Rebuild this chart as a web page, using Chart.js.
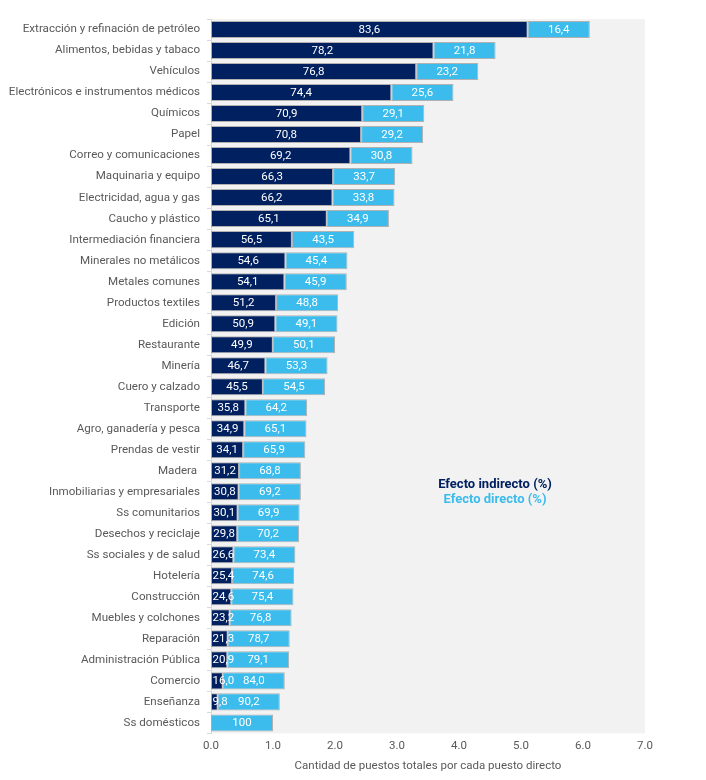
<!DOCTYPE html>
<html>
<head>
<meta charset="utf-8">
<script src="https://cdn.jsdelivr.net/npm/chart.js@4.4.1/dist/chart.umd.min.js"></script>
<style>
  html, body { margin: 0; padding: 0; background: #ffffff; }
  #wrap { width: 706px; height: 780px; }
</style>
</head>
<body>
<div id="wrap"><canvas id="myChart" width="706" height="780"></canvas></div>
<script>
const sectores = [
  "Extracción y refinación de petróleo",
  "Alimentos, bebidas y tabaco",
  "Vehículos",
  "Electrónicos e instrumentos médicos",
  "Químicos",
  "Papel",
  "Correo y comunicaciones",
  "Maquinaria y equipo",
  "Electricidad, agua y gas",
  "Caucho y plástico",
  "Intermediación financiera",
  "Minerales no metálicos",
  "Metales comunes",
  "Productos textiles",
  "Edición",
  "Restaurante",
  "Minería",
  "Cuero y calzado",
  "Transporte",
  "Agro, ganadería y pesca",
  "Prendas de vestir",
  "Madera ",
  "Inmobiliarias y empresariales",
  "Ss comunitarios",
  "Desechos y reciclaje",
  "Ss sociales y de salud",
  "Hotelería",
  "Construcción",
  "Muebles y colchones",
  "Reparación",
  "Administración Pública",
  "Comercio",
  "Enseñanza",
  "Ss domésticos",
];

// puestos totales por cada puesto directo
const totales = [
  6.11, 4.59, 4.31, 3.91, 3.44, 3.42, 3.25, 2.97, 2.96, 2.87,
  2.31, 2.20, 2.19, 2.05, 2.04, 2.00, 1.88, 1.84, 1.55, 1.54,
  1.52, 1.45, 1.45, 1.43, 1.42, 1.36, 1.34, 1.33, 1.30, 1.27,
  1.26, 1.19, 1.11, 1.00,
];

// % efecto indirecto
const indirecto = [
  83.6, 78.2, 76.8, 74.4, 70.9, 70.8, 69.2, 66.3, 66.2, 65.1,
  56.5, 54.6, 54.1, 51.2, 50.9, 49.9, 46.7, 45.5, 35.8, 34.9,
  34.1, 31.2, 30.8, 30.1, 29.8, 26.6, 25.4, 24.6, 23.2, 21.3,
  20.9, 16.0, 9.8, 0,
];

// % efecto directo
const directo = [
  16.4, 21.8, 23.2, 25.6, 29.1, 29.2, 30.8, 33.7, 33.8, 34.9,
  43.5, 45.4, 45.9, 48.8, 49.1, 50.1, 53.3, 54.5, 64.2, 65.1,
  65.9, 68.8, 69.2, 69.9, 70.2, 73.4, 74.6, 75.4, 76.8, 78.7,
  79.1, 84.0, 90.2, 100,
];

const xTicks = [0, 1, 2, 3, 4, 5, 6, 7];

const DARK = "#002060";
const LIGHT = "#3bbcec";

function fmt(v) {
  if (v === 100) return "100";
  return v.toFixed(1).replace(".", ",");
}

// fondo gris del area de grafico
const bgPlugin = {
  id: "bgArea",
  beforeDraw(chart) {
    const { ctx, chartArea: a } = chart;
    ctx.save();
    ctx.fillStyle = "#f2f2f2";
    ctx.fillRect(a.left, a.top, a.right - a.left, a.bottom - a.top);
    ctx.restore();
  },
};

// etiquetas dentro de las barras (no salen por la izquierda)
const labelPlugin = {
  id: "barLabels",
  afterDatasetsDraw(chart) {
    const ctx = chart.ctx;
    ctx.save();
    ctx.font = "11.5px Roboto";
    ctx.fillStyle = "#ffffff";
    ctx.textAlign = "center";
    ctx.textBaseline = "middle";
    chart.data.datasets.forEach((ds, di) => {
      const meta = chart.getDatasetMeta(di);
      meta.data.forEach((bar, i) => {
        const pct = ds.pct[i];
        if (!pct) return;
        const txt = fmt(pct);
        const w = ctx.measureText(txt).width;
        let cx = (bar.x + bar.base) / 2;
        cx = Math.max(cx, bar.base + w / 2 + 1.5);
        ctx.fillText(txt, cx, bar.y + 0.5);
      });
    });
    ctx.restore();
  },
};

// leyenda como texto dentro del area
const legendPlugin = {
  id: "textLegend",
  afterDraw(chart) {
    const { ctx, chartArea: a } = chart;
    const cx = a.left + 284;
    ctx.save();
    ctx.font = "bold 13px Roboto";
    ctx.textAlign = "center";
    ctx.textBaseline = "middle";
    ctx.fillStyle = DARK;
    ctx.fillText("Efecto indirecto (%)", cx, a.top + 466);
    ctx.fillStyle = LIGHT;
    ctx.fillText("Efecto directo (%)", cx, a.top + 481);
    ctx.restore();
  },
};

const data = {
  labels: sectores,
  datasets: [
    {
      label: "Efecto indirecto (%)",
      data: totales.map((t, i) => (t * indirecto[i]) / 100),
      pct: indirecto,
      backgroundColor: DARK,
      borderColor: "rgba(150,150,150,0.7)",
      borderWidth: 1,
      borderSkipped: false,
    },
    {
      label: "Efecto directo (%)",
      data: totales.map((t, i) => (t * directo[i]) / 100),
      pct: directo,
      backgroundColor: LIGHT,
      borderColor: "rgba(150,150,150,0.7)",
      borderWidth: 1,
      borderSkipped: false,
    },
  ],
};

const config = {
  type: "bar",
  data: data,
  options: {
    indexAxis: "y",
    responsive: false,
    animation: false,
    layout: { padding: { top: 19, right: 61, bottom: 2, left: 0 } },
    datasets: {
      bar: { barPercentage: 0.81, categoryPercentage: 1.0 },
    },
    scales: {
      x: {
        stacked: true,
        min: 0,
        max: 7,
        afterBuildTicks(scale) {
          scale.ticks = xTicks.map((v) => ({ value: v }));
        },
        grid: { display: false, drawTicks: false },
        border: { display: false },
        ticks: {
          padding: 6,
          color: "#595959",
          font: { family: "Roboto", size: 11.5 },
          callback: (v) => Number(v).toFixed(1),
        },
        title: {
          display: true,
          text: "Cantidad de puestos totales por cada puesto directo",
          color: "#595959",
          font: { family: "Roboto", size: 11.5 },
          padding: { top: 0, bottom: 5 },
        },
      },
      y: {
        stacked: true,
        afterFit(scale) {
          scale.width = 211;
        },
        grid: {
          display: true,
          drawOnChartArea: false,
          drawTicks: true,
          tickLength: 4,
          color: "#d9d9d9",
        },
        border: { display: true, color: "#d9d9d9" },
        ticks: {
          padding: 7,
          autoSkip: false,
          color: "#595959",
          font: { family: "Roboto", size: 11.6 },
        },
      },
    },
    plugins: {
      legend: { display: false },
      tooltip: { enabled: false },
    },
  },
  plugins: [bgPlugin, labelPlugin, legendPlugin],
};

const myChart = new Chart(document.getElementById("myChart"), config);
</script>
</body>
</html>
